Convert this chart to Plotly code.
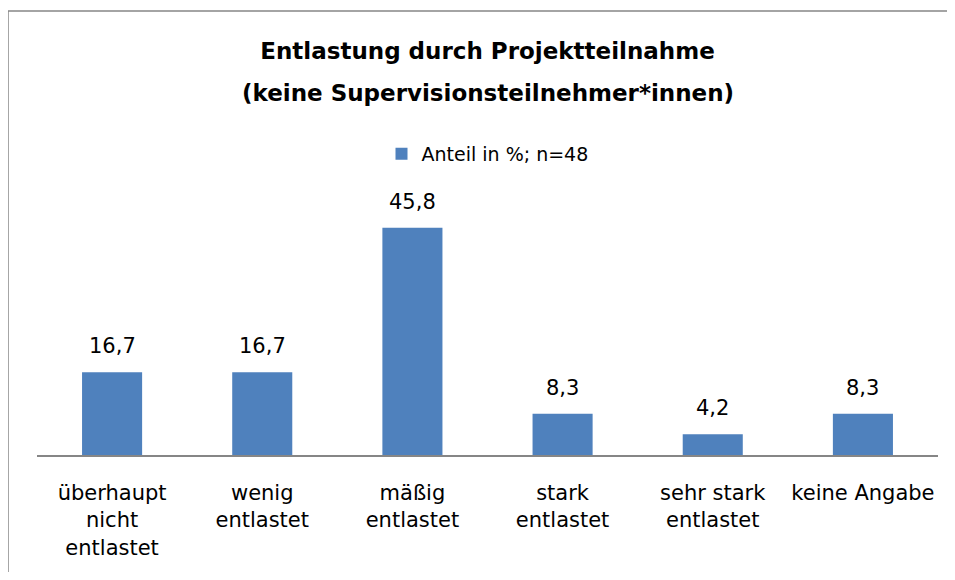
import plotly.graph_objects as go

categories = ["überhaupt<br>nicht<br>entlastet", "wenig<br>entlastet", "mäßig<br>entlastet",
              "stark<br>entlastet", "sehr stark<br>entlastet", "keine Angabe"]
values = [16.7, 16.7, 45.8, 8.3, 4.2, 8.3]
series_name = "Anteil in %; n=48"
title_line1 = "Entlastung durch Projektteilnahme"
title_line2 = "(keine Supervisionsteilnehmer*innen)"

FONT = "DejaVu Sans"
BAR = "#4F81BD"
W, H = 939, 564  # page body has an 8px margin; keep the page free of scrollbars

fig = go.Figure()
fig.add_trace(go.Bar(x=categories, y=values, name=series_name, marker_color=BAR,
                     marker_line_width=0, width=0.4))

for c, v in zip(categories, values):
    fig.add_annotation(x=c, y=v, text=f"{v:.1f}".replace(".", ","), showarrow=False,
                       yanchor="bottom", yshift=12, font=dict(family=FONT, size=21, color="#000"))

fig.add_annotation(text=f"<b>{title_line2}</b>", xref="paper", yref="paper", x=0.5,
                   y=(447 - 85) / 248, xanchor="center", yanchor="middle", showarrow=False,
                   font=dict(family=FONT, size=23, color="#000"))

# chart frame (only the top and left edges fall inside the picture)
frame = dict(color="#868686", width=1.5)
fig.add_shape(type="line", xref="paper", yref="paper", x0=-0.0322, x1=1.2, y0=1.79, y1=1.79,
              line=frame, layer="below")
fig.add_shape(type="line", xref="paper", yref="paper", x0=-0.0322, x1=-0.0322, y0=-0.9, y1=1.79,
              line=frame, layer="below")

fig.update_layout(
    width=W, height=H,
    margin=dict(l=29, r=W - 930, t=199, b=H - 447),
    paper_bgcolor="white", plot_bgcolor="white",
    title=dict(text=f"<b>{title_line1}</b>", x=0.5, xref="paper", xanchor="center", y=1 - 43 / H,
               yref="container", yanchor="middle",
               font=dict(family=FONT, size=23, color="#000")),
    showlegend=True,
    legend=dict(orientation="h", x=0.5, xanchor="center", y=(447 - 146) / 248, yanchor="middle",
                font=dict(family=FONT, size=19, color="#000"), bgcolor="rgba(0,0,0,0)"),
    xaxis=dict(showline=True, linecolor="#868686", linewidth=1.5, ticks="", showgrid=False,
               tickfont=dict(family=FONT, size=21, color="#000"), ticklabelstandoff=18),
    yaxis=dict(range=[0, 50], visible=False, showgrid=False),
    bargap=0.6,
)

fig.write_html("out.html")
